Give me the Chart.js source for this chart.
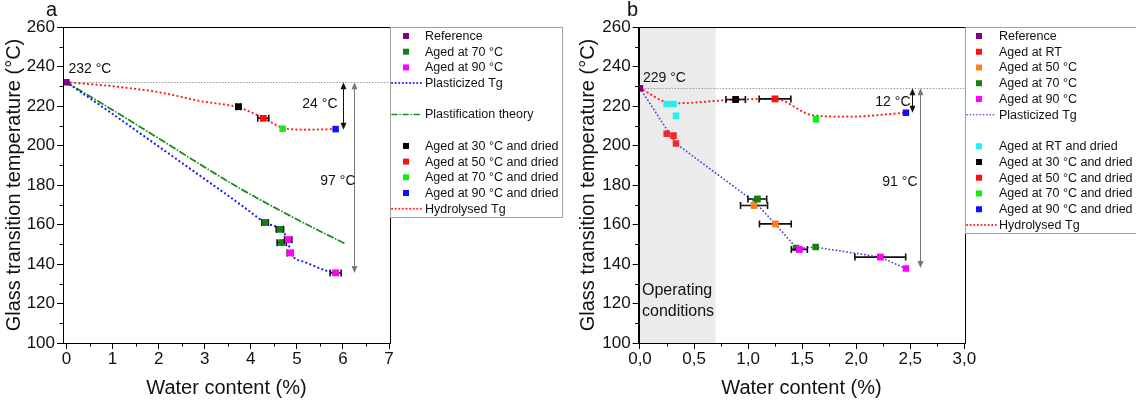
<!DOCTYPE html>
<html>
<head>
<meta charset="utf-8">
<script src="https://cdn.jsdelivr.net/npm/chart.js@4.4.0/dist/chart.umd.min.js"></script>
<style>
    html, body { margin: 0; padding: 0; background: #fff; }
    #wrap { position: relative; width: 1136px; height: 403px; overflow: hidden; }
    .panel { position: absolute; top: 0; width: 568px; height: 403px; }
    #pa { left: 0; }
    #pb { left: 568px; }
</style>
</head>
<body>
<div id="wrap">
    <div class="panel" id="pa"><canvas id="chartA" width="568" height="403"></canvas></div>
    <div class="panel" id="pb"><canvas id="chartB" width="568" height="403"></canvas></div>
</div>
<script>
// ─── DATA: shared ────────────────────────────────────────────────────────────
var yTicks = [100, 120, 140, 160, 180, 200, 220, 240, 260];
var yMinor = [110, 130, 150, 170, 190, 210, 230, 250];

// ─── DATA: panel a ───────────────────────────────────────────────────────────
var aXTicks = [0, 1, 2, 3, 4, 5, 6, 7];
var aXMinor = [0.5, 1.5, 2.5, 3.5, 4.5, 5.5, 6.5];
var aRefX = [0], aRefY = [232];
var a70X = [4.31, 4.63, 4.67], a70Y = [161.0, 157.6, 150.8], a70Err = [0.07, 0.08, 0.10];
var a90X = [4.81, 4.85, 5.84], a90Y = [152.3, 145.6, 135.5], a90Err = [0.08, 0.06, 0.12];
var aPlastX = [0, 1, 2, 3, 3.84, 4.31, 4.63, 4.81, 4.86, 5.17, 5.61, 5.84];
var aPlastY = [232, 216, 199.5, 183, 169, 161, 157.5, 151.5, 146, 141, 136.8, 135.5];
var aTheoryX = [0, 1, 2, 3, 3.76, 4.5, 5.25, 6.03];
var aTheoryY = [232, 218, 203.6, 189, 178.3, 168.8, 159.6, 150.5];
var aD30X = [3.73], aD30Y = [219.6], aD30Err = [0.05];
var aD50X = [4.27], aD50Y = [213.8], aD50Err = [0.12];
var aD70X = [4.69], aD70Y = [208.5];
var aD90X = [5.84], aD90Y = [208.3];
var aHydX = [0, 1, 2, 2.9, 3.73, 4.27, 4.69, 5.2, 5.84];
var aHydY = [232, 230, 227, 222.5, 219.3, 214, 209, 208, 208.3];

// ─── DATA: panel b ───────────────────────────────────────────────────────────
var bXTicks = [0, 0.5, 1, 1.5, 2, 2.5, 3];
var bXMinor = [0.25, 0.75, 1.25, 1.75, 2.25, 2.75];
var bRefX = [0], bRefY = [229];
var bRTX = [0.247, 0.31, 0.333], bRTY = [206, 205, 201];
var b50X = [1.055, 1.252], b50Y = [169.6, 160.3], b50Err = [0.125, 0.147];
var b70X = [1.085, 1.443, 1.625], b70Y = [172.9, 148.1, 148.6], b70Err = [0.087, 0, 0];
var b90X = [1.474, 2.223, 2.46], b90Y = [147.4, 143.5, 137.7], b90Err = [0.074, 0.235, 0];
var bPlastX = [0, 0.333, 1.07, 1.25, 1.45, 1.625, 2.223, 2.46];
var bPlastY = [229, 201, 171, 160.3, 148, 148.5, 143.5, 137.7];
var bDRTX = [0.247, 0.31, 0.333], bDRTY = [221, 221, 215];
var bD30X = [0.885], bD30Y = [223.3], bD30Err = [0.09];
var bD50X = [1.249], bD50Y = [223.6], bD50Err = [0.147];
var bD70X = [1.628], bD70Y = [213.3];
var bD90X = [2.46], bD90Y = [216.6];
var bHydX = [0, 0.3, 0.885, 1.249, 1.6, 1.94, 2.46];
var bHydY = [229, 221.3, 223.2, 223.6, 215.3, 214.6, 216.6];
var bOperating = [0, 0.7];

// ─── COLOURS ─────────────────────────────────────────────────────────────────
var C = {
    purple: '#800080', dgreen: '#128012', magenta: '#ff00ff', black: '#000000',
    red: '#ff1010', lime: '#10f010', blue: '#1010ff', cyan: '#20f0f0', orange: '#f58420',
    blueA: '#1a1aff', blueB: '#4747d6', theory: '#1a8a1a', hyd: '#ff2020'
};
var FONT = '"Liberation Sans", Arial, sans-serif';

function pts(xs, ys) {
    return xs.map(function (x, i) { return { x: x, y: ys[i] }; });
}

function scatter(label, xs, ys, color, err) {
    return {
        type: 'scatter', label: label, data: pts(xs, ys), order: 0,
        pointStyle: 'rect', pointRadius: 4.6, pointHoverRadius: 4.6,
        backgroundColor: color, borderColor: color, borderWidth: 0,
        errX: err || null
    };
}

function curve(label, xs, ys, color, dash, width, smooth) {
    return {
        type: 'line', label: label, data: pts(xs, ys), order: 1,
        borderColor: color, borderWidth: width, borderDash: dash,
        borderCapStyle: 'round', pointRadius: 0, fill: false,
        cubicInterpolationMode: smooth ? 'monotone' : 'default', tension: 0
    };
}

// ─── PLUGIN: frame, minor ticks, error bars, arrows, labels, legend ─────────
function drawArrowHead(ctx, x, y, dir) {
    ctx.beginPath();
    ctx.moveTo(x, y);
    ctx.lineTo(x - 3, y - dir * 7);
    ctx.lineTo(x + 3, y - dir * 7);
    ctx.closePath();
    ctx.fill();
}

var decor = {
    id: 'decor',
    beforeDatasetsDraw: function (chart) {
        var o = chart.options.plugins.decor, ctx = chart.ctx, a = chart.chartArea;
        var xs = chart.scales.x, ys = chart.scales.y;
        ctx.save();
        if (o.shade) {
            ctx.fillStyle = '#ebebeb';
            var s0 = Math.max(a.left + 1, xs.getPixelForValue(o.shade[0]));
            var s1 = xs.getPixelForValue(o.shade[1]);
            ctx.fillRect(s0, a.top, s1 - s0, a.bottom - a.top);
        }
        // reference Tg line
        ctx.strokeStyle = '#9a9a9a';
        ctx.lineWidth = 1;
        ctx.setLineDash([1.5, 1.5]);
        var ry = Math.round(ys.getPixelForValue(o.refTg)) + 0.5;
        ctx.beginPath(); ctx.moveTo(a.left, ry); ctx.lineTo(a.right, ry); ctx.stroke();
        ctx.setLineDash([]);
        ctx.restore();
    },
    afterDatasetsDraw: function (chart) {
        var o = chart.options.plugins.decor, ctx = chart.ctx, a = chart.chartArea;
        var xs = chart.scales.x, ys = chart.scales.y;
        ctx.save();
        // error bars, then the marker redrawn on top
        chart.data.datasets.forEach(function (ds) {
            if (!ds.errX) return;
            ds.data.forEach(function (p, i) {
                var e = ds.errX[i];
                if (!e) return;
                var x0 = xs.getPixelForValue(p.x - e), x1 = xs.getPixelForValue(p.x + e);
                var y = ys.getPixelForValue(p.y);
                ctx.strokeStyle = '#111';
                ctx.lineWidth = 1.6;
                ctx.beginPath();
                ctx.moveTo(x0, y); ctx.lineTo(x1, y);
                ctx.moveTo(x0, y - 3.5); ctx.lineTo(x0, y + 3.5);
                ctx.moveTo(x1, y - 3.5); ctx.lineTo(x1, y + 3.5);
                ctx.stroke();
                ctx.fillStyle = ds.backgroundColor;
                var px = xs.getPixelForValue(p.x);
                ctx.fillRect(px - 3.25, y - 3.25, 6.5, 6.5);
            });
        });
        // frame
        ctx.strokeStyle = '#000';
        ctx.lineWidth = 1;
        ctx.strokeRect(Math.round(a.left) + 0.5, Math.round(a.top) + 0.5,
            Math.round(a.right - a.left), Math.round(a.bottom - a.top));
        // minor ticks
        ctx.beginPath();
        o.xMinor.forEach(function (v) {
            var px = Math.round(xs.getPixelForValue(v)) + 0.5;
            ctx.moveTo(px, a.bottom); ctx.lineTo(px, a.bottom + 3.5);
        });
        o.yMinor.forEach(function (v) {
            var py = Math.round(ys.getPixelForValue(v)) + 0.5;
            ctx.moveTo(a.left, py); ctx.lineTo(a.left - 3.5, py);
        });
        ctx.stroke();
        // arrows
        o.arrows.forEach(function (ar) {
            var px = Math.round(xs.getPixelForValue(ar.x)) + 0.5;
            var y0 = ys.getPixelForValue(ar.from), y1 = ys.getPixelForValue(ar.to);
            ctx.strokeStyle = ar.color; ctx.fillStyle = ar.color; ctx.lineWidth = 1;
            ctx.beginPath(); ctx.moveTo(px, y0 + 4); ctx.lineTo(px, y1 - 4); ctx.stroke();
            drawArrowHead(ctx, px, y0, -1);
            drawArrowHead(ctx, px, y1, 1);
            ctx.fillStyle = '#111';
            ctx.font = '14px ' + FONT;
            ctx.textAlign = 'right'; ctx.textBaseline = 'middle';
            ctx.fillText(ar.label, px + ar.dx, ys.getPixelForValue(ar.labelY));
        });
        // text labels
        ctx.fillStyle = '#111';
        o.texts.forEach(function (t) {
            ctx.font = t.size + 'px ' + FONT;
            ctx.textAlign = 'left'; ctx.textBaseline = 'middle';
            ctx.fillText(t.text, xs.getPixelForValue(t.x) + (t.dx || 0), ys.getPixelForValue(t.y));
        });
        // panel letter
        ctx.font = '20px ' + FONT;
        ctx.textAlign = 'left'; ctx.textBaseline = 'middle';
        ctx.fillText(o.letter[0], o.letter[1], o.letter[2]);
        // legend
        var L = o.legend;
        ctx.fillStyle = '#fff';
        ctx.fillRect(L.x + 1, L.y + 1, L.w - 1, L.h - 1);
        ctx.strokeStyle = '#a0a0a0'; ctx.lineWidth = 1;
        ctx.strokeRect(L.x + 0.5, L.y + 0.5, L.w, L.h);
        ctx.font = '12.5px ' + FONT;
        ctx.textAlign = 'left'; ctx.textBaseline = 'middle';
        L.items.forEach(function (it, i) {
            if (it.gap) return;
            var y = L.y + 9 + i * L.step;
            if (it.line) {
                ctx.strokeStyle = it.color; ctx.lineWidth = it.width;
                ctx.setLineDash(it.dash); ctx.lineCap = 'round';
                ctx.beginPath(); ctx.moveTo(L.x + 2, y); ctx.lineTo(L.x + L.tx - 3, y); ctx.stroke();
                ctx.setLineDash([]); ctx.lineCap = 'butt';
            } else {
                ctx.fillStyle = it.color;
                ctx.fillRect(L.x + L.mx - 3, y - 3, 6, 6);
            }
            ctx.fillStyle = '#111';
            ctx.fillText(it.label, L.x + L.tx, y + 0.5);
        });
        ctx.restore();
    }
};

function commaTicks(v) {
    return String(v.toFixed(1)).replace('.', ',');
}

function buildOptions(cfg) {
    return {
        responsive: false, animation: false,
        layout: { padding: { left: 0, top: 27, right: cfg.padRight, bottom: 0 } },
        plugins: {
            legend: { display: false }, tooltip: { enabled: false },
            decor: cfg.decor
        },
        scales: {
            x: {
                type: 'linear', min: cfg.xMin, max: cfg.xMax,
                afterBuildTicks: function (s) { s.ticks = cfg.xTicks.map(function (v) { return { value: v }; }); },
                afterFit: function (s) { s.height = 60; },
                grid: { display: true, drawOnChartArea: false, drawTicks: true, tickLength: 6, color: '#000', lineWidth: 1 },
                border: { display: true, color: '#000', width: 1 },
                ticks: {
                    padding: 0, color: '#111', font: { family: FONT, size: 17 },
                    maxRotation: 0, autoSkip: false,
                    callback: cfg.xFormat
                },
                title: {
                    display: true, text: 'Water content (%)', color: '#111',
                    font: { family: FONT, size: 20 }, padding: { top: 0, bottom: 3 }
                }
            },
            y: {
                type: 'linear', min: 100, max: 260,
                afterBuildTicks: function (s) { s.ticks = yTicks.map(function (v) { return { value: v }; }); },
                afterFit: function (s) { s.width = cfg.yWidth; },
                grid: { display: true, drawOnChartArea: false, drawTicks: true, tickLength: 6, color: '#000', lineWidth: 1 },
                border: { display: true, color: '#000', width: 1 },
                ticks: { padding: 2, color: '#111', font: { family: FONT, size: 17 } },
                title: {
                    display: true, text: 'Glass transition temperature (°C)', color: '#111',
                    font: { family: FONT, size: 20 }, padding: { top: cfg.yTitlePad, bottom: 0 }
                }
            }
        }
    };
}

// ─── CHART A ─────────────────────────────────────────────────────────────────
var dotted = [0.1, 4.2];
new Chart(document.getElementById('chartA').getContext('2d'), {
    data: {
        datasets: [
            scatter('Reference', aRefX, aRefY, C.purple),
            scatter('Aged at 70 °C', a70X, a70Y, C.dgreen, a70Err),
            scatter('Aged at 90 °C', a90X, a90Y, C.magenta, a90Err),
            scatter('Aged at 30 °C and dried', aD30X, aD30Y, C.black, aD30Err),
            scatter('Aged at 50 °C and dried', aD50X, aD50Y, C.red, aD50Err),
            scatter('Aged at 70 °C and dried', aD70X, aD70Y, C.lime),
            scatter('Aged at 90 °C and dried', aD90X, aD90Y, C.blue),
            curve('Plasticized Tg', aPlastX, aPlastY, C.blueA, dotted, 2.2, true),
            curve('Plastification theory', aTheoryX, aTheoryY, C.theory, [6, 3, 0.1, 3], 1.8, true),
            curve('Hydrolysed Tg', aHydX, aHydY, C.hyd, dotted, 2.2, true)
        ]
    },
    plugins: [decor],
    options: buildOptions({
        padRight: 178, xMin: -0.076, xMax: 7.02, xTicks: aXTicks, yWidth: 63, yTitlePad: 2,
        xFormat: function (v) { return String(v); },
        decor: {
            refTg: 232, xMinor: aXMinor, yMinor: yMinor,
            arrows: [
                { x: 5.99, from: 232, to: 208, color: '#111', label: '24 °C', labelY: 220.9, dx: -6 },
                { x: 6.24, from: 232, to: 135.5, color: '#777', label: '97 °C', labelY: 182, dx: 1 }
            ],
            texts: [{ text: '232 °C', x: 0, y: 238.5, size: 14, dx: 2 }],
            letter: ['a', 46, 10],
            legend: {
                x: 390, y: 27, w: 172, h: 190, step: 15.7, mx: 16, tx: 35,
                items: [
                    { label: 'Reference', color: C.purple },
                    { label: 'Aged at 70 °C', color: C.dgreen },
                    { label: 'Aged at 90 °C', color: C.magenta },
                    { label: 'Plasticized Tg', color: C.blueA, line: true, dash: [0.1, 3.5], width: 2 },
                    { gap: true },
                    { label: 'Plastification theory', color: C.theory, line: true, dash: [5, 3, 0.1, 3], width: 1.6 },
                    { gap: true },
                    { label: 'Aged at 30 °C and dried', color: C.black },
                    { label: 'Aged at 50 °C and dried', color: C.red },
                    { label: 'Aged at 70 °C and dried', color: C.lime },
                    { label: 'Aged at 90 °C and dried', color: C.blue },
                    { label: 'Hydrolysed Tg', color: C.hyd, line: true, dash: [0.1, 3.5], width: 2 }
                ]
            }
        }
    })
});

// ─── CHART B ─────────────────────────────────────────────────────────────────
new Chart(document.getElementById('chartB').getContext('2d'), {
    data: {
        datasets: [
            scatter('Reference', bRefX, bRefY, C.purple),
            scatter('Aged at RT', bRTX, bRTY, '#f02828'),
            scatter('Aged at 50 °C', b50X, b50Y, C.orange, b50Err),
            scatter('Aged at 70 °C', b70X, b70Y, C.dgreen, b70Err),
            scatter('Aged at 90 °C', b90X, b90Y, C.magenta, b90Err),
            scatter('Aged at RT and dried', bDRTX, bDRTY, C.cyan),
            scatter('Aged at 30 °C and dried', bD30X, bD30Y, C.black, bD30Err),
            scatter('Aged at 50 °C and dried', bD50X, bD50Y, C.red, bD50Err),
            scatter('Aged at 70 °C and dried', bD70X, bD70Y, C.lime),
            scatter('Aged at 90 °C and dried', bD90X, bD90Y, C.blue),
            curve('Plasticized Tg', bPlastX, bPlastY, C.blueB, [0.1, 3.5], 1.8, false),
            curve('Hydrolysed Tg', bHydX, bHydY, C.hyd, [0.1, 4.2], 2.2, true)
        ]
    },
    plugins: [decor],
    options: buildOptions({
        padRight: 171.7, xMin: -0.012, xMax: 3.0, xTicks: bXTicks, yWidth: 70.7, yTitlePad: 8,
        xFormat: commaTicks,
        decor: {
            refTg: 229, xMinor: bXMinor, yMinor: yMinor, shade: bOperating,
            arrows: [
                { x: 2.52, from: 229, to: 216.6, color: '#111', label: '12 °C', labelY: 222, dx: -2 },
                { x: 2.59, from: 229, to: 138, color: '#777', label: '91 °C', labelY: 181.5, dx: -3 }
            ],
            texts: [
                { text: '229 °C', x: 0, y: 234, size: 14, dx: 3 },
                { text: 'Operating', x: 0, y: 126.3, size: 16, dx: 2 },
                { text: 'conditions', x: 0, y: 115.7, size: 16, dx: 2 }
            ],
            letter: ['b', 59, 10],
            legend: {
                x: 397, y: 27, w: 171, h: 206, step: 15.75, mx: 14, tx: 34,
                items: [
                    { label: 'Reference', color: C.purple },
                    { label: 'Aged at RT', color: C.red },
                    { label: 'Aged at 50 °C', color: C.orange },
                    { label: 'Aged at 70 °C', color: C.dgreen },
                    { label: 'Aged at 90 °C', color: C.magenta },
                    { label: 'Plasticized Tg', color: C.blueB, line: true, dash: [0.1, 3.2], width: 1.6 },
                    { gap: true },
                    { label: 'Aged at RT and dried', color: C.cyan },
                    { label: 'Aged at 30 °C and dried', color: C.black },
                    { label: 'Aged at 50 °C and dried', color: C.red },
                    { label: 'Aged at 70 °C and dried', color: C.lime },
                    { label: 'Aged at 90 °C and dried', color: C.blue },
                    { label: 'Hydrolysed Tg', color: C.hyd, line: true, dash: [0.1, 3.5], width: 2 }
                ]
            }
        }
    })
});
</script>
</body>
</html>
